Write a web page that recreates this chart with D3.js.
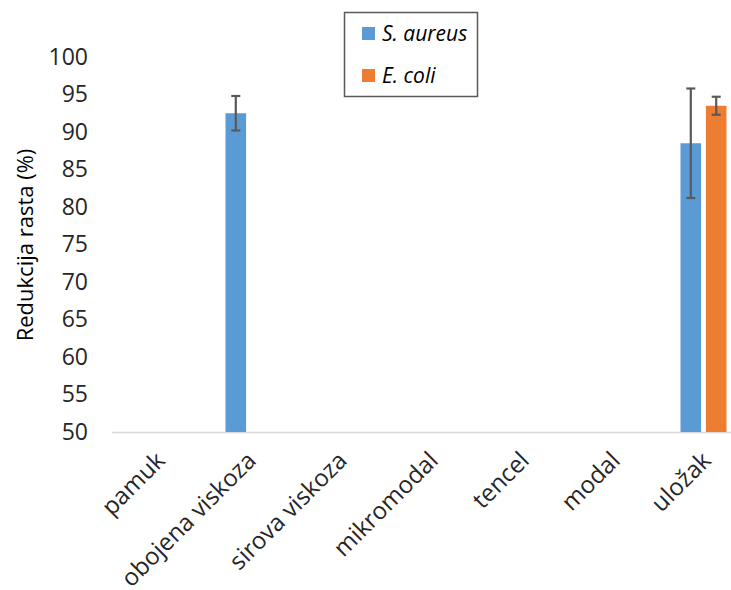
<!DOCTYPE html>
<html><head><meta charset="utf-8">
<script src="https://cdn.jsdelivr.net/npm/d3@7"></script>
<style>body{margin:0;background:#fff}svg{display:block}</style>
</head><body>
<svg id="c" width="731" height="590"></svg>
<script>
const categories = ["pamuk","obojena viskoza","sirova viskoza","mikromodal","tencel","modal","uložak"];
const seriesNames = ["S. aureus","E. coli"];
const aureusValues = [null, 92.5, null, null, null, null, 88.5];
const aureusErrors = [null, 2.3, null, null, null, null, 7.3];
const coliValues = [null, null, null, null, null, null, 93.5];
const coliErrors = [null, null, null, null, null, null, 1.2];
const yTicks = [50,55,60,65,70,75,80,85,90,95,100];
const colors = ["#5B9BD5","#ED7D31"];

const svg = d3.select("#c");
const font = "'Open Sans', 'Noto Sans', sans-serif";
const x0 = d3.scaleBand().domain(categories).range([112, 749]).paddingInner(0).paddingOuter(0);
const bw = x0.bandwidth();
const x1 = d3.scaleBand().domain(seriesNames).range([bw/2-23, bw/2+23]).paddingInner(0.19);
const y = d3.scaleLinear().domain([50,100]).range([432,57]);

const data = [
  {name: seriesNames[0], vals: aureusValues, errs: aureusErrors, color: colors[0]},
  {name: seriesNames[1], vals: coliValues, errs: coliErrors, color: colors[1]}
];

// baseline
svg.append("line").attr("x1",112).attr("x2",731).attr("y1",y(50)+0.5).attr("y2",y(50)+0.5)
  .attr("stroke","#d9d9d9").attr("stroke-width",1.5);

// y axis labels
const yAxis = d3.axisLeft(y).tickValues(yTicks).tickSize(0).tickPadding(0);
const gy = svg.append("g").attr("transform","translate(88,0)").call(yAxis);
gy.select(".domain").remove();
gy.selectAll("text").attr("font-family",font).attr("font-size",23).attr("fill","#262626");

// bars
data.forEach(s => {
  const g = svg.append("g");
  categories.forEach((c,i) => {
    const v = s.vals[i];
    if (v == null) return;
    const xx = x0(c) + x1(s.name);
    g.append("rect").attr("x",xx).attr("y",y(v)).attr("width",x1.bandwidth()).attr("height",y(50)-y(v))
      .attr("fill",s.color);
  });
});
// error bars
data.forEach(s => {
  categories.forEach((c,i) => {
    const v = s.vals[i], e = s.errs[i];
    if (v == null || e == null) return;
    const cx = x0(c) + x1(s.name) + x1.bandwidth()/2;
    const g = svg.append("g").attr("stroke","#595959").attr("stroke-width",2.2);
    g.append("line").attr("x1",cx).attr("x2",cx).attr("y1",y(v+e)).attr("y2",y(v-e));
    g.append("line").attr("x1",cx-4.5).attr("x2",cx+4.5).attr("y1",y(v+e)).attr("y2",y(v+e));
    g.append("line").attr("x1",cx-4.5).attr("x2",cx+4.5).attr("y1",y(v-e)).attr("y2",y(v-e));
  });
});

// x axis labels
const gx = svg.append("g");
categories.forEach(c => {
  const cx = x0(c) + bw/2 + 9;
  gx.append("text").attr("transform",`translate(${cx},462) rotate(-45)`)
    .attr("text-anchor","end").attr("font-family",font).attr("font-size",24).attr("fill","#262626")
    .text(c);
});

// y title
svg.append("text").attr("transform","translate(33,245) rotate(-90)").attr("text-anchor","middle")
  .attr("font-family",font).attr("font-size",22).attr("fill","#000").text("Redukcija rasta (%)");

// legend
const lg = svg.append("g");
lg.append("rect").attr("x",344.5).attr("y",12.5).attr("width",133).attr("height",84)
  .attr("fill","#fff").attr("stroke","#595959").attr("stroke-width",1.5);
seriesNames.forEach((n,i) => {
  const yy = 27 + i*42;
  lg.append("rect").attr("x",362).attr("y",yy).attr("width",13).attr("height",13).attr("fill",colors[i]);
  lg.append("text").attr("x",382).attr("y",yy+14).attr("font-family",font).attr("font-style","italic")
    .attr("font-size",21).attr("fill","#000").text(n);
});
</script>
</body></html>
